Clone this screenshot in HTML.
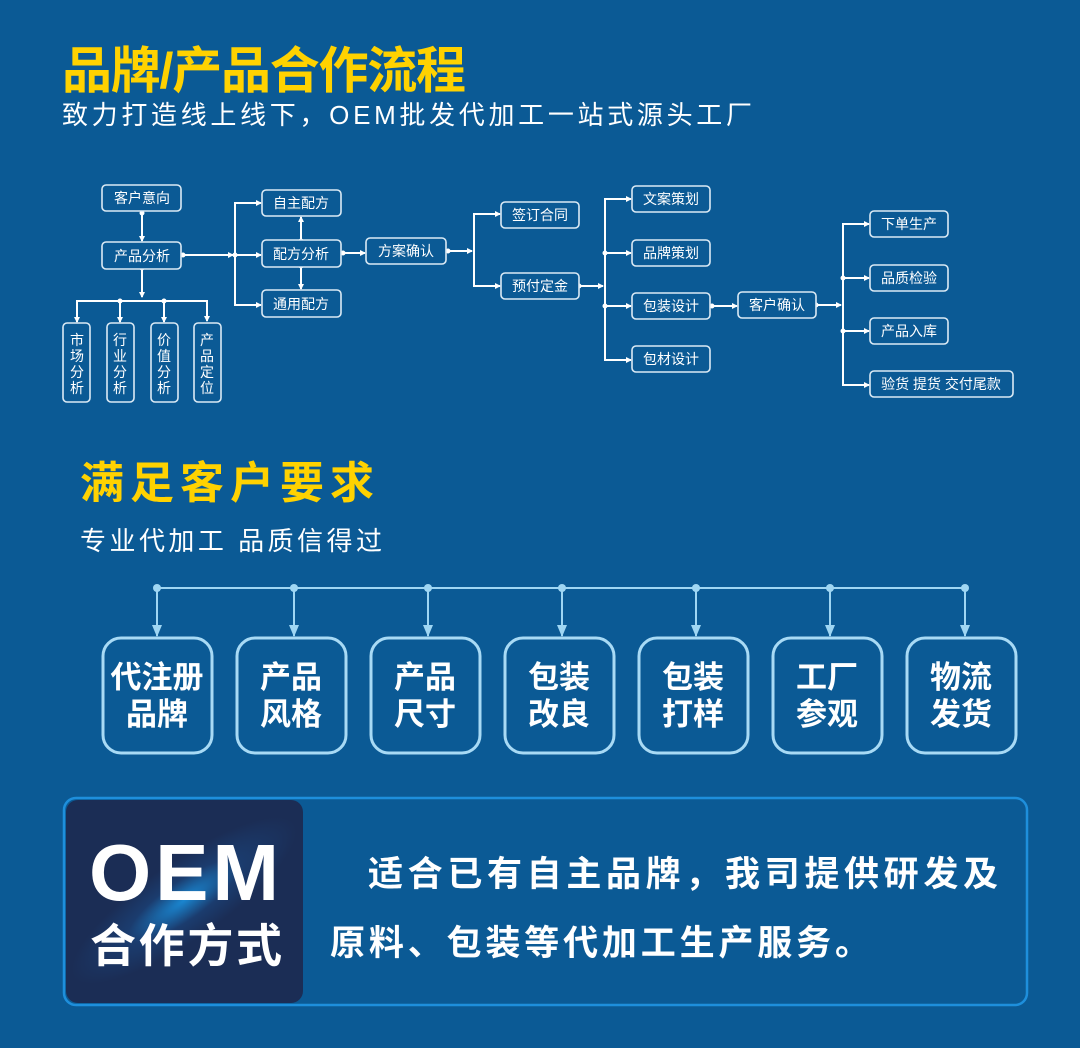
<!DOCTYPE html>
<html><head><meta charset="utf-8"><style>
html,body{margin:0;padding:0;background:#0b5a95;}
svg{display:block;}
text{font-family:"Liberation Sans","Noto Sans CJK SC",sans-serif;}
</style></head><body>
<svg width="1080" height="1048" viewBox="0 0 1080 1048" xmlns="http://www.w3.org/2000/svg">
<defs>
<marker id="a" markerWidth="6" markerHeight="6" refX="5" refY="3" orient="auto" markerUnits="userSpaceOnUse"><path d="M0,0 L6,3 L0,6 z" fill="#fff"/></marker>
<marker id="b" markerWidth="12" markerHeight="10" refX="11" refY="5" orient="auto" markerUnits="userSpaceOnUse"><path d="M0,0 L12,5 L0,10 z" fill="#9fd6f3"/></marker>
<radialGradient id="g" cx="0.5" cy="0.5" r="0.6" gradientTransform="rotate(-40 0.5 0.5) scale(1 0.3) translate(0 1.15)">
<stop offset="0" stop-color="#1a86d0"/><stop offset="0.5" stop-color="#1b3c6e"/><stop offset="1" stop-color="#1b2d55"/></radialGradient>
</defs>
<rect width="1080" height="1048" fill="#0b5a95"/>

<text x="62" y="88" font-size="50" font-weight="bold" fill="#ffd200" textLength="404">品牌/产品合作流程</text>
<text x="62" y="124" font-size="26" fill="#fff" textLength="690">致力打造线上线下，OEM批发代加工一站式源头工厂</text>

<g fill="none" stroke="#fff" stroke-width="2">
<!-- left part -->
<line x1="142" y1="211" x2="142" y2="241" marker-end="url(#a)"/>
<line x1="142" y1="269" x2="142" y2="297" marker-end="url(#a)"/>
<polyline points="77,321 77,301 207,301 207,321" marker-end="url(#a)"/>
<line x1="77" y1="301" x2="77" y2="322" marker-end="url(#a)"/>
<line x1="120" y1="301" x2="120" y2="322" marker-end="url(#a)"/>
<line x1="164" y1="301" x2="164" y2="322" marker-end="url(#a)"/>
<line x1="181" y1="255" x2="233" y2="255" marker-end="url(#a)"/>
<polyline points="260,203 235,203 235,305 260,305"/>
<line x1="250" y1="203" x2="261" y2="203" marker-end="url(#a)"/>
<line x1="235" y1="255" x2="261" y2="255" marker-end="url(#a)"/>
<line x1="250" y1="305" x2="261" y2="305" marker-end="url(#a)"/>
<line x1="301" y1="240" x2="301" y2="217" marker-end="url(#a)"/>
<line x1="301" y1="267" x2="301" y2="289" marker-end="url(#a)"/>
<line x1="341" y1="253" x2="365" y2="253" marker-end="url(#a)"/>
<line x1="446" y1="251" x2="472" y2="251" marker-end="url(#a)"/>
<polyline points="500,214 474,214 474,286 500,286"/>
<line x1="490" y1="214" x2="500" y2="214" marker-end="url(#a)"/>
<line x1="490" y1="286" x2="500" y2="286" marker-end="url(#a)"/>
<line x1="579" y1="286" x2="603" y2="286" marker-end="url(#a)"/>
<polyline points="631,199 605,199 605,360 631,360"/>
<line x1="620" y1="199" x2="631" y2="199" marker-end="url(#a)"/>
<line x1="605" y1="253" x2="631" y2="253" marker-end="url(#a)"/>
<line x1="605" y1="306" x2="631" y2="306" marker-end="url(#a)"/>
<line x1="620" y1="360" x2="631" y2="360" marker-end="url(#a)"/>
<line x1="710" y1="306" x2="737" y2="306" marker-end="url(#a)"/>
<line x1="816" y1="305" x2="841" y2="305" marker-end="url(#a)"/>
<polyline points="869,224 843,224 843,385 869,385"/>
<line x1="858" y1="224" x2="869" y2="224" marker-end="url(#a)"/>
<line x1="843" y1="278" x2="869" y2="278" marker-end="url(#a)"/>
<line x1="843" y1="331" x2="869" y2="331" marker-end="url(#a)"/>
<line x1="858" y1="385" x2="869" y2="385" marker-end="url(#a)"/>
</g>
<g fill="#fff">
<circle cx="142" cy="213" r="2.5"/><circle cx="142" cy="268" r="2.5"/><circle cx="120" cy="301" r="2.5"/><circle cx="164" cy="301" r="2.5"/>
<circle cx="183" cy="255" r="2.5"/><circle cx="235" cy="255" r="2.5"/><circle cx="301" cy="241" r="2.5"/><circle cx="301" cy="266" r="2.5"/>
<circle cx="343" cy="253" r="2.5"/><circle cx="448" cy="251" r="2.5"/><circle cx="579" cy="286" r="2.5"/><circle cx="605" cy="253" r="2.5"/><circle cx="605" cy="306" r="2.5"/>
<circle cx="712" cy="306" r="2.5"/><circle cx="816" cy="305" r="2.5"/><circle cx="843" cy="278" r="2.5"/><circle cx="843" cy="331" r="2.5"/>
</g>
<g fill="#0b5a95" stroke="#dbeaf5" stroke-width="1.6">
<rect x="102" y="185" width="79" height="26" rx="4"/>
<rect x="102" y="242" width="79" height="27" rx="4"/>
<rect x="63" y="323" width="27" height="79" rx="4"/>
<rect x="107" y="323" width="27" height="79" rx="4"/>
<rect x="151" y="323" width="27" height="79" rx="4"/>
<rect x="194" y="323" width="27" height="79" rx="4"/>
<rect x="262" y="190" width="79" height="26" rx="4"/>
<rect x="262" y="240" width="79" height="27" rx="4"/>
<rect x="262" y="290" width="79" height="27" rx="4"/>
<rect x="366" y="238" width="80" height="26" rx="4"/>
<rect x="501" y="202" width="78" height="26" rx="4"/>
<rect x="501" y="273" width="78" height="26" rx="4"/>
<rect x="632" y="186" width="78" height="26" rx="4"/>
<rect x="632" y="240" width="78" height="26" rx="4"/>
<rect x="632" y="293" width="78" height="26" rx="4"/>
<rect x="632" y="346" width="78" height="26" rx="4"/>
<rect x="738" y="292" width="78" height="26" rx="4"/>
<rect x="870" y="211" width="78" height="26" rx="4"/>
<rect x="870" y="265" width="78" height="26" rx="4"/>
<rect x="870" y="318" width="78" height="26" rx="4"/>
<rect x="870" y="371" width="143" height="26" rx="4"/>
</g>
<g fill="#fff" font-size="14" text-anchor="middle">
<text x="142" y="203">客户意向</text>
<text x="142" y="261">产品分析</text>
<text x="301" y="208">自主配方</text>
<text x="301" y="259">配方分析</text>
<text x="301" y="309">通用配方</text>
<text x="406" y="256">方案确认</text>
<text x="540" y="220">签订合同</text>
<text x="540" y="291">预付定金</text>
<text x="671" y="204">文案策划</text>
<text x="671" y="258">品牌策划</text>
<text x="671" y="311">包装设计</text>
<text x="671" y="364">包材设计</text>
<text x="777" y="310">客户确认</text>
<text x="909" y="229">下单生产</text>
<text x="909" y="283">品质检验</text>
<text x="909" y="336">产品入库</text>
<text x="941" y="389">验货 提货 交付尾款</text>
</g>
<g fill="#fff" font-size="14" text-anchor="middle">
<text x="77" y="345">市</text><text x="77" y="361">场</text><text x="77" y="377">分</text><text x="77" y="393">析</text>
<text x="120" y="345">行</text><text x="120" y="361">业</text><text x="120" y="377">分</text><text x="120" y="393">析</text>
<text x="164" y="345">价</text><text x="164" y="361">值</text><text x="164" y="377">分</text><text x="164" y="393">析</text>
<text x="207" y="345">产</text><text x="207" y="361">品</text><text x="207" y="377">定</text><text x="207" y="393">位</text>
</g>

<text x="80" y="498" font-size="44" font-weight="bold" fill="#ffd200" textLength="294">满足客户要求</text>
<text x="80" y="550" font-size="26" fill="#fff" textLength="302">专业代加工 品质信得过</text>

<g stroke="#9fd6f3" stroke-width="2" fill="none">
<line x1="157" y1="588" x2="965" y2="588"/>
<line x1="157" y1="588" x2="157" y2="636" marker-end="url(#b)"/>
<line x1="294" y1="588" x2="294" y2="636" marker-end="url(#b)"/>
<line x1="428" y1="588" x2="428" y2="636" marker-end="url(#b)"/>
<line x1="562" y1="588" x2="562" y2="636" marker-end="url(#b)"/>
<line x1="696" y1="588" x2="696" y2="636" marker-end="url(#b)"/>
<line x1="830" y1="588" x2="830" y2="636" marker-end="url(#b)"/>
<line x1="965" y1="588" x2="965" y2="636" marker-end="url(#b)"/>
</g>
<g fill="#9fd6f3"><circle cx="157" cy="588" r="4"/><circle cx="294" cy="588" r="4"/><circle cx="428" cy="588" r="4"/><circle cx="562" cy="588" r="4"/><circle cx="696" cy="588" r="4"/><circle cx="830" cy="588" r="4"/><circle cx="965" cy="588" r="4"/></g>
<g fill="none" stroke="#a8daf5" stroke-width="3">
<rect x="103" y="638" width="109" height="115" rx="18"/>
<rect x="237" y="638" width="109" height="115" rx="18"/>
<rect x="371" y="638" width="109" height="115" rx="18"/>
<rect x="505" y="638" width="109" height="115" rx="18"/>
<rect x="639" y="638" width="109" height="115" rx="18"/>
<rect x="773" y="638" width="109" height="115" rx="18"/>
<rect x="907" y="638" width="109" height="115" rx="18"/>
</g>
<g fill="#fff" font-size="31" font-weight="bold" text-anchor="middle">
<text x="157" y="688">代注册</text><text x="157" y="725">品牌</text>
<text x="291" y="688">产品</text><text x="291" y="725">风格</text>
<text x="425" y="688">产品</text><text x="425" y="725">尺寸</text>
<text x="559" y="688">包装</text><text x="559" y="725">改良</text>
<text x="693" y="688">包装</text><text x="693" y="725">打样</text>
<text x="827" y="688">工厂</text><text x="827" y="725">参观</text>
<text x="961" y="688">物流</text><text x="961" y="725">发货</text>
</g>

<rect x="64" y="798" width="963" height="207" rx="12" fill="#0b5a95" stroke="#1e8fdc" stroke-width="2.5"/>
<rect x="66" y="800" width="237" height="203" rx="12" fill="url(#g)"/>
<text x="184" y="900" font-size="80" font-weight="bold" fill="#fff" text-anchor="middle" textLength="190">OEM</text>
<text x="186" y="962" font-size="46" font-weight="bold" fill="#fff" text-anchor="middle" textLength="192">合作方式</text>
<text x="368" y="886" font-size="35" font-weight="bold" fill="#fff" textLength="630">适合已有自主品牌，我司提供研发及</text>
<text x="330" y="955" font-size="35" font-weight="bold" fill="#fff" textLength="540">原料、包装等代加工生产服务。</text>
</svg>
</body></html>
